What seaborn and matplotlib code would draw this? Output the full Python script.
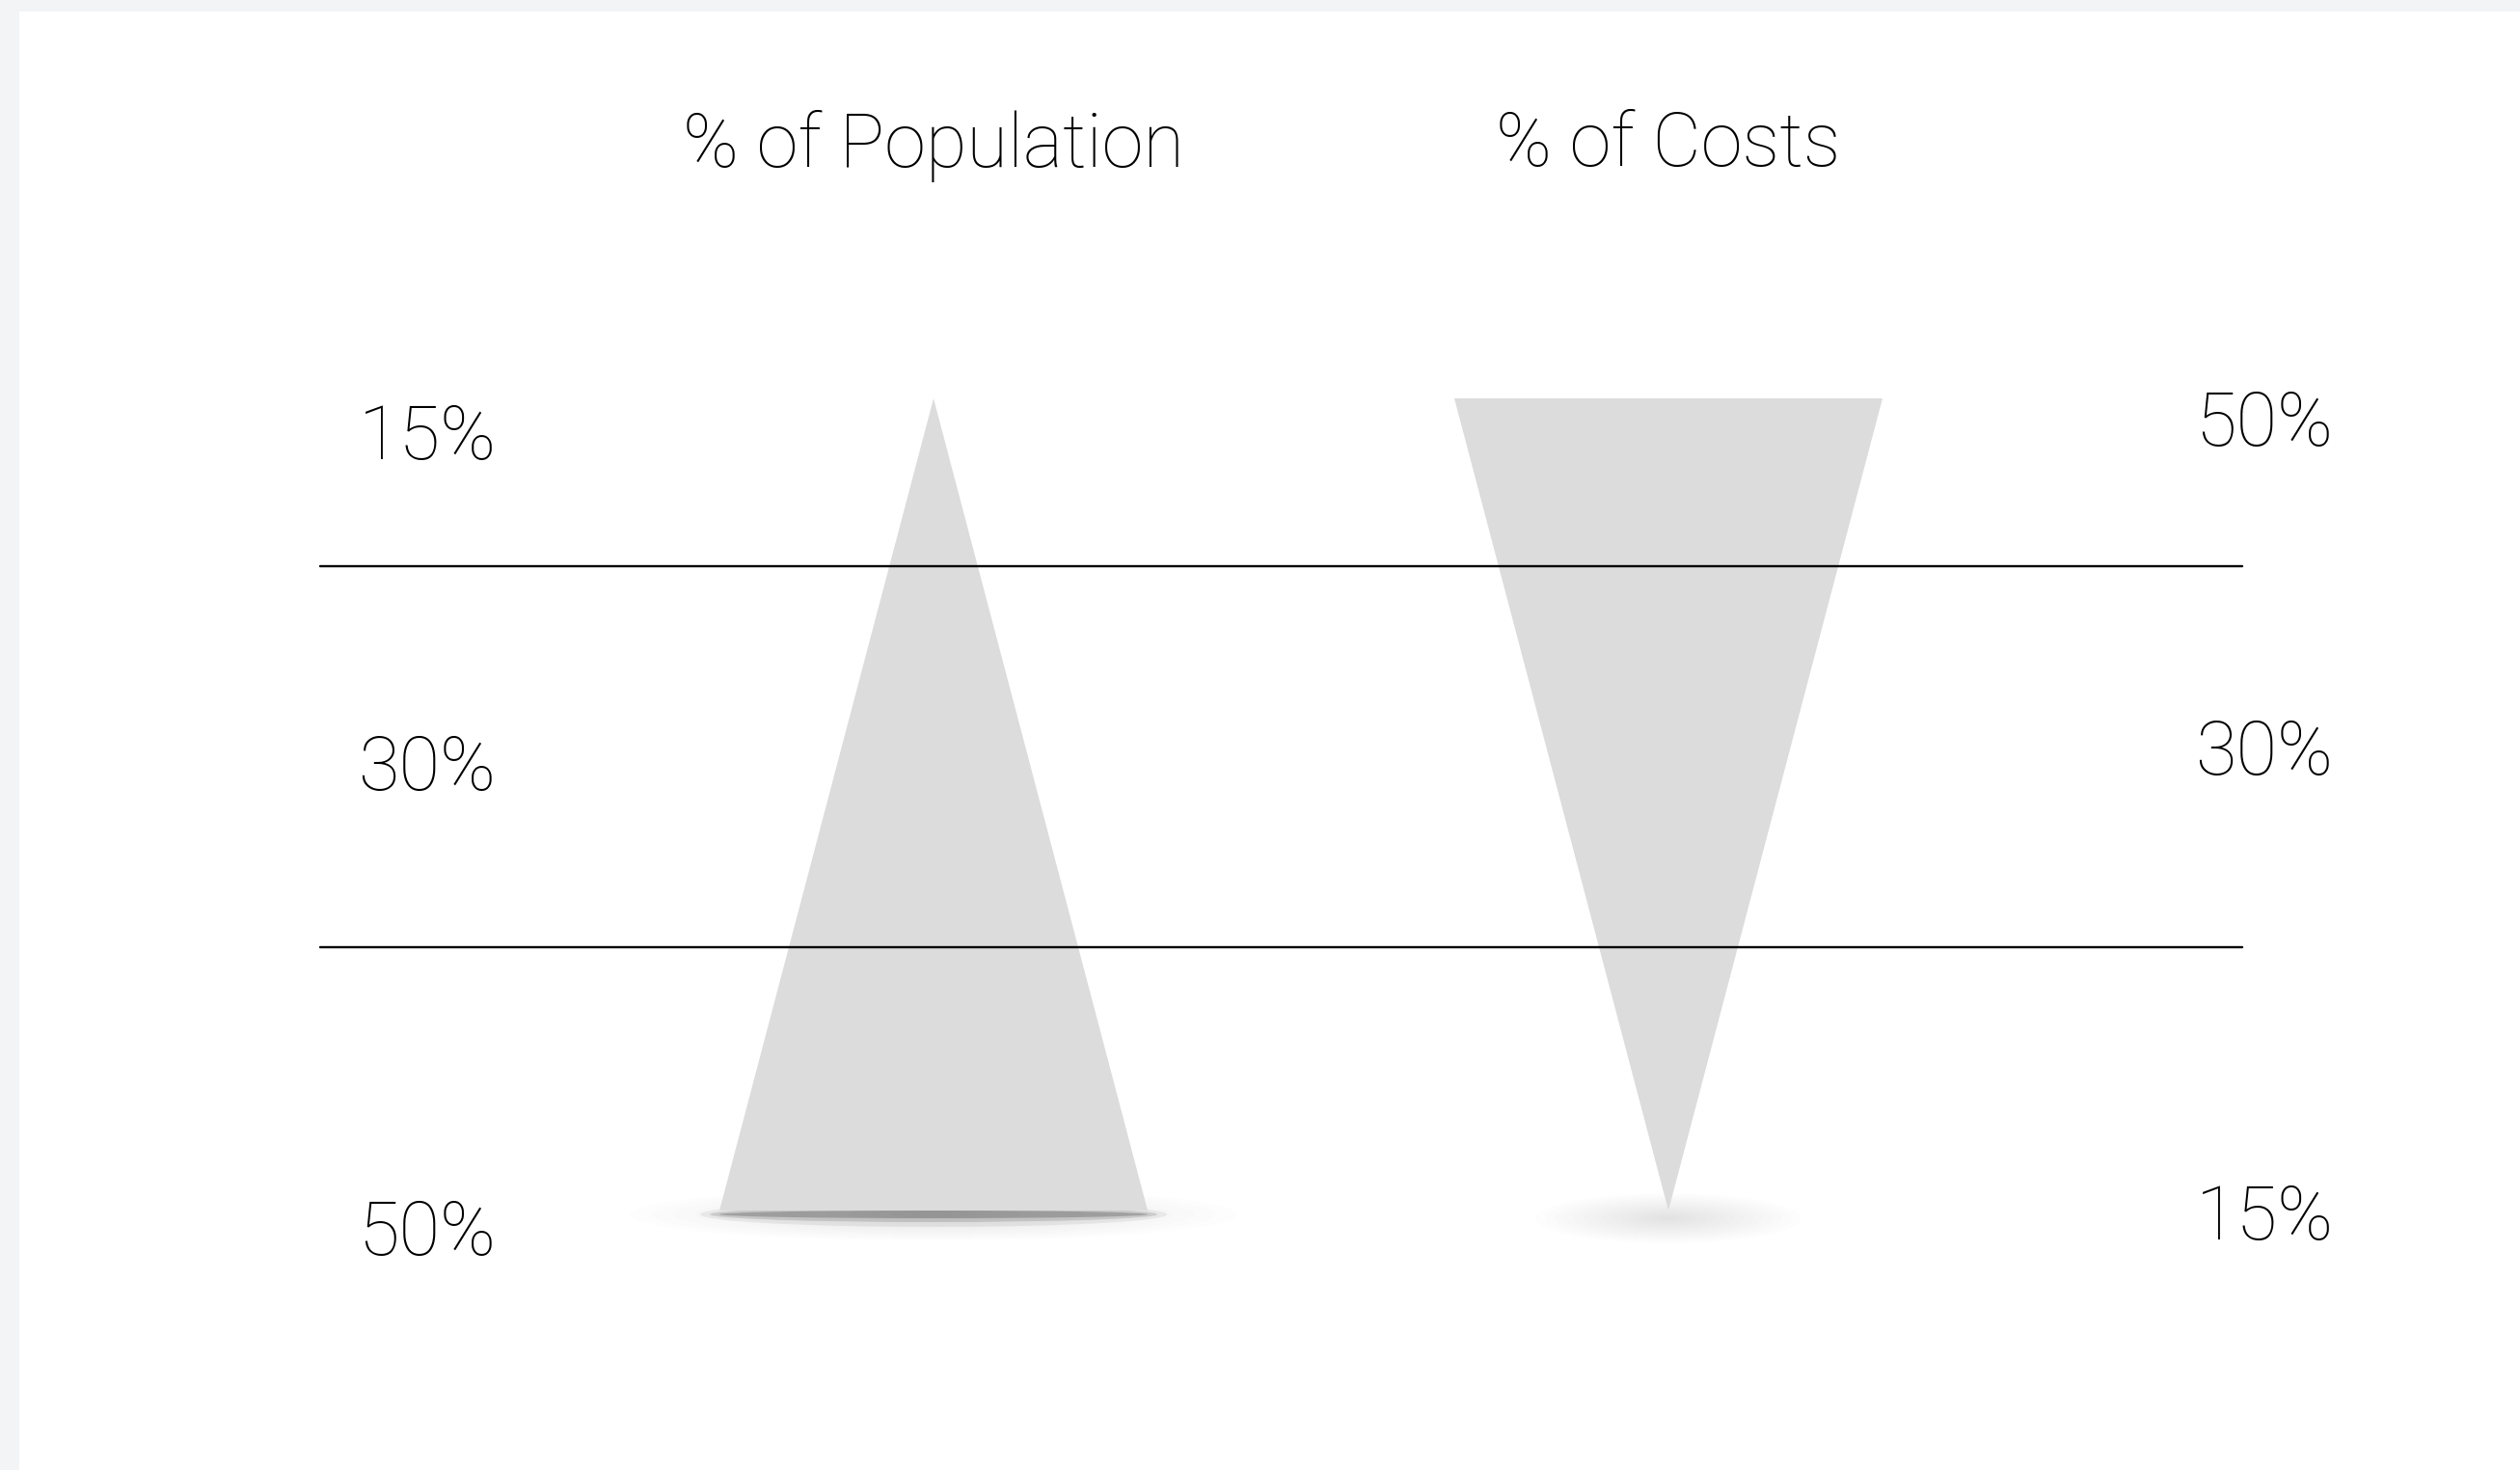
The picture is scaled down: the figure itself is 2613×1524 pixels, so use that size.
import numpy as np
import matplotlib
matplotlib.use("Agg")
import matplotlib.pyplot as plt
import seaborn as sns
import pandas as pd
from matplotlib.patches import Ellipse, Rectangle

# ---------------- data ----------------
columns = ["% of Population", "% of Costs"]
population_pct = [15, 30, 50]   # top band, middle band, bottom band
costs_pct = [50, 30, 15]        # top band, middle band, bottom band

# ---------------- layout (pixel space) ----------------
W, H = 2613, 1524
col_x = [968, 1730]            # centre of each column
tri_top, tri_bottom = 413, 1255
tri_half = 222
band_lines = [587, 982]
line_x = (332, 2325)
left_label_x, right_label_x = 443, 2348
left_label_y = [455, 798, 1280]
right_label_y = [441, 782, 1264]
header_y = 151

sns.set_theme(style="white")
plt.rcParams["font.family"] = ["Roboto", "DejaVu Sans"]

fig = plt.figure(figsize=(W / 100, H / 100), dpi=100)
fig.patch.set_facecolor("#f3f4f6")
ax = fig.add_axes([0, 0, 1, 1])
ax.set_xlim(0, W)
ax.set_ylim(H, 0)
ax.axis("off")
ax.add_patch(Rectangle((20, 12), W - 20, H - 12, facecolor="white", edgecolor="none", zorder=0))

# soft shadows under the bottoms of the shapes
def shadow(cx, cy, w, h, a=0.007):
    for k in range(14):
        f = 1 - k / 14
        ax.add_patch(Ellipse((cx, cy), w * f, h * f, facecolor="#000000",
                             alpha=a, edgecolor="none", zorder=1))

shadow(col_x[0], tri_bottom + 4, 630, 55)
shadow(col_x[1], tri_bottom + 8, 275, 52, 0.009)
for k, (wd, ht, a) in enumerate([(2 * tri_half + 40, 26, 0.06),
                                  (2 * tri_half + 20, 16, 0.12),
                                  (2 * tri_half, 8, 0.2)]):
    ax.add_patch(Ellipse((col_x[0], tri_bottom + 4), wd, ht,
                         facecolor="#000000", alpha=a, edgecolor="none", zorder=1))

# triangles: population widens downward, costs widen upward
pop = pd.DataFrame({"x": [col_x[0], col_x[0] - tri_half, col_x[0] + tri_half],
                    "y": [tri_top, tri_bottom, tri_bottom]})
cost = pd.DataFrame({"x": [col_x[1] - tri_half, col_x[1] + tri_half, col_x[1]],
                     "y": [tri_top, tri_top, tri_bottom]})
for df in (pop, cost):
    ax.fill(df["x"], df["y"], color="#dcdcdc", edgecolor="none", zorder=2)

# band separators
for yl in band_lines:
    lines = pd.DataFrame({"x": list(line_x), "y": [yl, yl]})
    sns.lineplot(data=lines, x="x", y="y", ax=ax, color="black", linewidth=1.7,
                 zorder=3, legend=False)
ax.set_xlim(0, W)
ax.set_ylim(H, 0)
ax.axis("off")

txt = dict(ha="center", va="center", fontsize=56, fontweight="light", color="black")

# headers
for cx, name in zip(col_x, columns):
    ax.text(cx, header_y, name, **txt)

# labels
for yv, v in zip(left_label_y, population_pct):
    ax.text(left_label_x, yv, f"{v}%", **txt)
for yv, v in zip(right_label_y, costs_pct):
    ax.text(right_label_x, yv, f"{v}%", **txt)

fig.savefig("out.png", dpi=100, facecolor=fig.get_facecolor())
